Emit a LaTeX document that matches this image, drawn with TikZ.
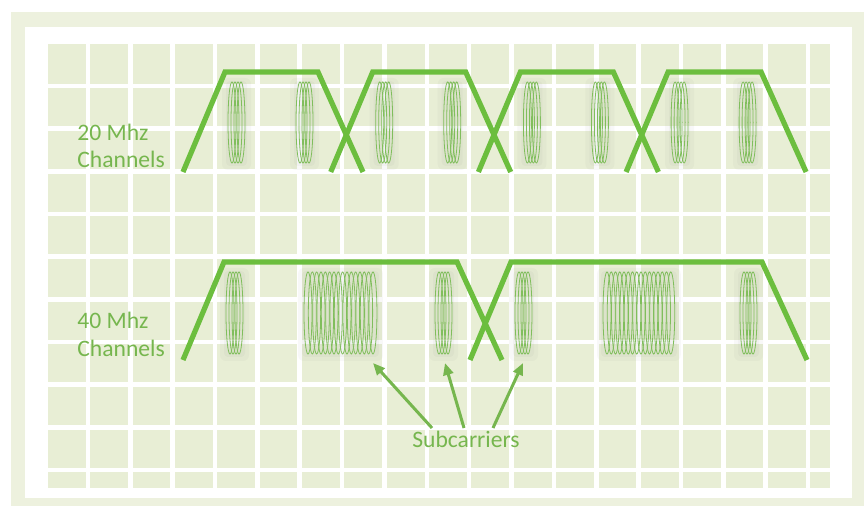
\documentclass[tikz,border=0pt]{standalone}
\usepackage{fontspec}
\setmainfont{Carlito}
\usetikzlibrary{arrows.meta}
\definecolor{frameg}{RGB}{237,241,222}
\definecolor{cellg}{RGB}{232,238,213}
\definecolor{lineg}{RGB}{108,190,62}
\definecolor{textg}{RGB}{118,182,78}
\definecolor{subg}{RGB}{128,190,92}
\newcommand\scgrp[5]{%
  \pgfmathsetmacro\gw{8+(#4-1)*#5}%
  \fill[black!60,opacity=0.045,rounded corners=3pt] (#1-6,#2-4) rectangle (#1+\gw+6,#3+7);
  \fill[black!60,opacity=0.045,rounded corners=2pt] (#1-2,#2-1) rectangle (#1+\gw+2,#3+3);
  \foreach \i in {1,...,#4} \draw[sc] ({#1+4+(\i-1)*#5},{(#2+#3)/2}) ellipse [x radius=4, y radius={(#3-#2)/2}];
}
\begin{document}
\begin{tikzpicture}[x=0.5pt,y=-0.5pt,
  chan/.style={draw=lineg,line width=2.6pt,line join=miter},
  sc/.style={draw=subg,line width=0.4pt},
  lbl/.style={text=textg,font=\fontsize{11.8}{14}\selectfont,inner sep=0pt,anchor=base west},
  arr/.style={draw=textg,line width=1.5pt,-{Triangle[length=6pt,width=5pt]}},
  gridline/.style={white,line width=2.3pt}]
\useasboundingbox (0,0) rectangle (864,506);
\fill[white] (0,0) rectangle (864,506);
\fill[frameg] (11,12) rectangle (864,506);
\fill[white] (25,27) rectangle (852,498);
\fill[cellg] (48,44) rectangle (830,488);
\foreach \k in {0,...,17} \draw[gridline] ({88+42.35*\k},44) -- ({88+42.35*\k},488);
\foreach \k in {0,...,9} \draw[gridline] (48,{86+42.67*\k}) -- (830,{86+42.67*\k});
% 20 MHz subcarriers
\foreach \k in {0,...,3}{
  \scgrp{228+147.7*\k}{82}{163}{4}{3}
  \scgrp{296+147.7*\k}{82}{163}{4}{3}
}
% 40 MHz subcarriers
\scgrp{226}{272}{354}{4}{3}
\scgrp{304}{272}{354}{16}{4.33}
\scgrp{435}{272}{354}{4}{3}
\scgrp{515}{272}{354}{4}{3}
\scgrp{603}{272}{354}{16}{4.25}
\scgrp{740}{272}{354}{4}{3}
% 20 MHz channels
\foreach \k in {0,...,3}
  \draw[chan] ({183+147.7*\k},172) -- ({225+147.7*\k},72) -- ({318+147.7*\k},72) -- ({363+147.7*\k},172);
% 40 MHz channels
\draw[chan] (183,360) -- (224,262) -- (457,262) -- (502,360);
\draw[chan] (470,360) -- (511,262) -- (762,262) -- (807,360);
% labels
\node[lbl] (t20a) at (77,141) {20 Mhz};
\node[lbl] (t20b) at (77,168) {Channels};
\node[lbl] (t40a) at (77,329) {40 Mhz};
\node[lbl] (t40b) at (77,357) {Channels};
\node[lbl,anchor=base] (sub) at (466,448) {Subcarriers};
% arrows
\coordinate (s1) at (432,428);
\coordinate (s2) at (464,428);
\coordinate (s3) at (493,428);
\coordinate (p1) at (373,363);
\coordinate (p2) at (445,363);
\coordinate (p3) at (523,363);
\draw[arr] (s1) -- (p1);
\draw[arr] (s2) -- (p2);
\draw[arr] (s3) -- (p3);
\end{tikzpicture}
\end{document}
